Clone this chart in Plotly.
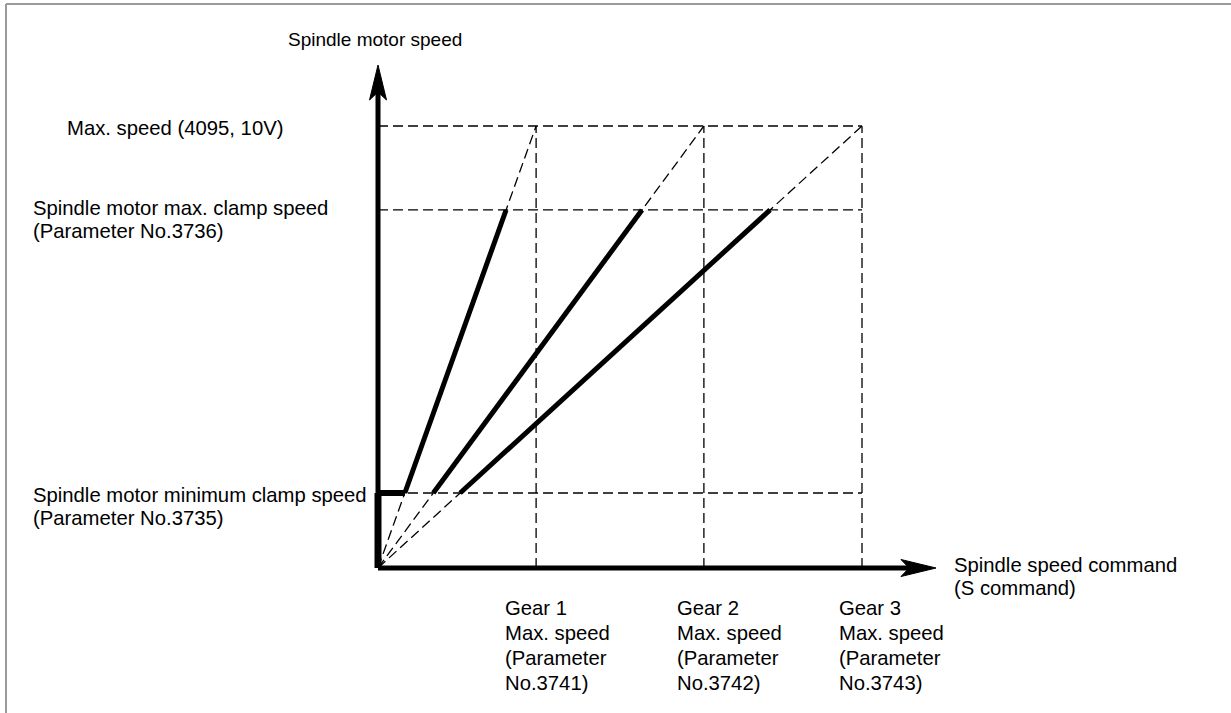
import plotly.graph_objects as go

# Speed values (motor speed in D/A counts, S command in rpm)
MAX_SPEED = 4095          # Max. speed (4095, 10V)
MAX_CLAMP = 3317          # Parameter No.3736
MIN_CLAMP = 695           # Parameter No.3735
GEAR_MAX = [980, 2020, 3000]        # gear 1..3 max speed (S command)
GEAR_PARAMS = ["3741", "3742", "3743"]

# Layout geometry (pixels)
W, H = 1231, 713
ORIGIN_PX = (378, 568)
PX_X = 484 / GEAR_MAX[-1]      # pixels per S-command unit
PX_Y = 442 / MAX_SPEED         # pixels per motor-speed unit
X_AXIS_PX = 558                # length of x arrow
Y_AXIS_PX = 503                # length of y arrow
HEAD_LEN, HEAD_HALF, HEAD_NOTCH = 35, 8.5, 8
THICK = 5
GEAR_LABEL_DX = [-33, -29, -25]
DASH = dict(color="black", width=1.3, dash="10px,5px")
FONT = dict(family="Arial, Liberation Sans, sans-serif", size=20.3, color="black")

dx = lambda p: p / PX_X
dy = lambda p: p / PX_Y

fig = go.Figure()


def line(xs, ys, style):
    fig.add_trace(go.Scatter(x=xs, y=ys, mode="lines", line=style,
                             hoverinfo="skip", showlegend=False))


# dashed reference grid
for level in (MAX_SPEED, MAX_CLAMP, MIN_CLAMP):
    line([0, GEAR_MAX[-1]], [level, level], DASH)
for g in GEAR_MAX:
    line([g, g], [0, MAX_SPEED], DASH)
    line([0, g], [0, MAX_SPEED], DASH)

# clamped operating ranges for each gear
for g in GEAR_MAX:
    x0 = MIN_CLAMP / MAX_SPEED * g
    x1 = MAX_CLAMP / MAX_SPEED * g
    line([x0, x1], [MIN_CLAMP, MAX_CLAMP], dict(color="black", width=THICK))

# minimum clamp step at low speed
line([0, 0], [0, MIN_CLAMP], dict(color="black", width=7))
line([0, MIN_CLAMP / MAX_SPEED * GEAR_MAX[0]], [MIN_CLAMP, MIN_CLAMP],
     dict(color="black", width=THICK + 1))

# axes with barbed arrowheads
x_tip = dx(X_AXIS_PX)
y_tip = dy(Y_AXIS_PX)
line([0, x_tip - dx(HEAD_LEN - HEAD_NOTCH)], [0, 0], dict(color="black", width=THICK))
line([0, 0], [0, y_tip - dy(HEAD_LEN - HEAD_NOTCH)], dict(color="black", width=THICK))

shapes = []
xp = (f"M {x_tip},0 L {x_tip - dx(HEAD_LEN)},{dy(HEAD_HALF)} "
      f"L {x_tip - dx(HEAD_LEN - HEAD_NOTCH)},0 L {x_tip - dx(HEAD_LEN)},{-dy(HEAD_HALF)} Z")
yp = (f"M 0,{y_tip} L {-dx(HEAD_HALF)},{y_tip - dy(HEAD_LEN)} "
      f"L 0,{y_tip - dy(HEAD_LEN - HEAD_NOTCH)} L {dx(HEAD_HALF)},{y_tip - dy(HEAD_LEN)} Z")
for p in (xp, yp):
    shapes.append(dict(type="path", path=p, xref="x", yref="y",
                       fillcolor="black", line=dict(color="black", width=1)))

# frame (top and left edges)
shapes.append(dict(type="line", xref="paper", yref="paper",
                   x0=6 / W, x1=1, y0=1 - 4 / H, y1=1 - 4 / H,
                   line=dict(color="#9a9a9a", width=2)))
shapes.append(dict(type="line", xref="paper", yref="paper",
                   x0=6 / W, x1=6 / W, y0=0, y1=1 - 4 / H,
                   line=dict(color="#9a9a9a", width=2)))

ann = []


def text(s, x, y, xref="x", yref="y", xshift=0, yshift=0, xanchor="left", size=None):
    font = dict(FONT, size=size) if size else FONT
    ann.append(dict(text=s, x=x, y=y, xref=xref, yref=yref, xshift=xshift,
                    yshift=yshift, xanchor=xanchor, yanchor="middle",
                    showarrow=False, font=font, align="left"))


text("Spindle motor speed", 0, y_tip, xshift=-92, yshift=26, size=19)
text("Max. speed (4095, 10V)", 65 / W, MAX_SPEED, xref="paper", yshift=-2)
text("Spindle motor max. clamp speed", 31 / W, MAX_CLAMP, xref="paper", yshift=2)
text("(Parameter No.3736)", 31 / W, MAX_CLAMP, xref="paper", yshift=-21)
text("Spindle motor minimum clamp speed", 31 / W, MIN_CLAMP, xref="paper", yshift=-2)
text("(Parameter No.3735)", 31 / W, MIN_CLAMP, xref="paper", yshift=-25)
text("Spindle speed command", x_tip, 0, xshift=16, yshift=3)
text("(S command)", x_tip, 0, xshift=16, yshift=-20)

for i, (g, prm) in enumerate(zip(GEAR_MAX, GEAR_PARAMS)):
    lines = [f"Gear {i + 1}", "Max. speed", "(Parameter", f"No.{prm})"]
    for k, s in enumerate(lines):
        text(s, g, 0, xshift=GEAR_LABEL_DX[i], yshift=-40 - 25 * k)

fig.update_layout(
    width=W, height=H,
    margin=dict(l=0, r=0, t=0, b=0, pad=0),
    paper_bgcolor="white", plot_bgcolor="white",
    xaxis=dict(range=[dx(-ORIGIN_PX[0]), dx(W - ORIGIN_PX[0])], visible=False, fixedrange=True),
    yaxis=dict(range=[dy(-(H - ORIGIN_PX[1])), dy(ORIGIN_PX[1])], visible=False, fixedrange=True),
    shapes=shapes, annotations=ann, showlegend=False,
)

fig.write_html("out.html")
